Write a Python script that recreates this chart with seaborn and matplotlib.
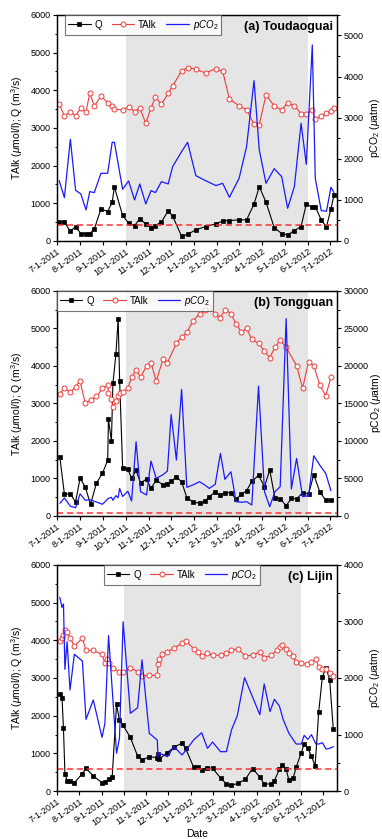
import matplotlib
matplotlib.use("Agg")
import matplotlib.pyplot as plt
import matplotlib.dates as mdates
from matplotlib.ticker import MultipleLocator, FuncFormatter
import pandas as pd
import seaborn as sns

sns.set_theme(style="ticks")
plt.rcParams["font.family"] = ["Liberation Sans", "DejaVu Sans"]
plt.rcParams["mathtext.fontset"] = "custom"
plt.rcParams["mathtext.rm"] = "Liberation Sans"
plt.rcParams["mathtext.it"] = "Liberation Sans:italic"
plt.rcParams["mathtext.bf"] = "Liberation Sans:bold"
for k in ["text.color", "axes.labelcolor", "xtick.color", "ytick.color", "axes.edgecolor"]:
    plt.rcParams[k] = "black"

# ---------------- data ----------------
atm_pco2 = 390
wet_start, wet_end = "2011-10-01", "2012-06-01"

# (a) Toudaoguai
a_dates = ["2011-07-04","2011-07-11","2011-07-19","2011-07-26","2011-08-02","2011-08-09","2011-08-14",
           "2011-08-20","2011-08-29","2011-09-07","2011-09-13","2011-09-16","2011-09-27","2011-10-05",
           "2011-10-13","2011-10-20","2011-10-28","2011-11-04","2011-11-10","2011-11-18","2011-11-27",
           "2011-12-03","2011-12-15","2011-12-23","2012-01-03","2012-01-16","2012-01-30","2012-02-08",
           "2012-02-17","2012-03-01","2012-03-11","2012-03-21","2012-03-28","2012-04-06","2012-04-17",
           "2012-04-27","2012-05-05","2012-05-14","2012-05-23","2012-05-30","2012-06-07","2012-06-11",
           "2012-06-19","2012-06-26","2012-07-02","2012-07-06"]
a_Q = [498,498,258,382,196,196,196,311,853,782,1031,1431,676,471,409,587,453,356,409,507,800,658,
       124,178,293,382,453,533,542,560,560,978,1440,1031,356,196,160,276,382,987,889,907,560,373,853,1209]
a_TAlk = [3628,3327,3425,3327,3522,3425,3929,3584,3841,3673,3575,3513,3469,3566,3434,3531,3124,3531,
          3814,3628,3920,4115,4513,4602,4558,4460,4575,4504,3770,3584,3487,3097,3088,3876,3584,3478,
          3673,3584,3381,3363,3487,3239,3327,3389,3460,3531]
a_pCO2 = [1468,1055,2474,1233,1144,754,1201,1177,1647,1647,2401,2401,1258,1460,998,1387,900,1225,
          1177,1444,1387,1809,2174,2401,1590,1468,1347,1403,1063,1525,2296,3902,2215,1403,1760,1566,
          795,1322,2864,1866,4770,1525,738,722,1306,1177]

# (b) Tongguan
b_dates = ["2011-07-05","2011-07-11","2011-07-19","2011-07-26","2011-08-01","2011-08-08","2011-08-15",
           "2011-08-23","2011-08-31","2011-09-07","2011-09-08","2011-09-12","2011-09-14","2011-09-18",
           "2011-09-21","2011-09-23","2011-09-27","2011-10-04","2011-10-09","2011-10-15","2011-10-21",
           "2011-10-29","2011-11-04","2011-11-11","2011-11-20","2011-11-26","2011-12-01","2011-12-08",
           "2011-12-15","2011-12-22","2011-12-30","2012-01-08","2012-01-15","2012-01-21","2012-01-29",
           "2012-02-05","2012-02-11","2012-02-19","2012-02-26","2012-03-04","2012-03-11","2012-03-18",
           "2012-03-27","2012-04-04","2012-04-11","2012-04-18","2012-04-25","2012-05-03","2012-05-10",
           "2012-05-17","2012-05-25","2012-06-02","2012-06-09","2012-06-17","2012-06-25","2012-07-02"]
b_Q = [1563,586,586,373,1004,772,311,879,1137,1491,2575,2005,3534,4314,5254,3604,1287,1243,1004,1217,
       879,985,737,959,826,844,932,1039,914,488,378,337,390,515,639,550,621,621,444,577,675,923,1083,
       781,1225,479,462,275,470,453,621,586,1100,648,417,417]
b_pCO2 = [1690,2400,1300,1100,2950,2100,2150,1860,1560,2260,2350,2490,2090,2710,2440,3680,2600,3300,
          2000,9900,3240,2800,7320,5020,5500,5990,13540,7460,16870,3820,4130,4570,4130,3680,4220,8340,
          4880,5900,1910,1820,1910,1460,17310,3240,1240,3240,3900,26320,3600,7680,2570,2710,8030,6790,
          5680,3370]
b_talk_dates = ["2011-07-05","2011-07-11","2011-07-19","2011-07-26","2011-08-01","2011-08-08","2011-08-15",
                "2011-08-23","2011-08-31","2011-09-07","2011-09-08","2011-09-12","2011-09-14","2011-09-18",
                "2011-09-21","2011-09-23","2011-09-27","2011-10-04","2011-10-09","2011-10-15","2011-10-21",
                "2011-10-29","2011-11-04","2011-11-11","2011-11-20","2011-11-26","2011-12-08","2011-12-15",
                "2011-12-22","2011-12-30","2012-01-08","2012-01-15","2012-01-21","2012-01-29","2012-02-05",
                "2012-02-11","2012-02-19","2012-02-26","2012-03-04","2012-03-11","2012-03-18","2012-03-27",
                "2012-04-04","2012-04-11","2012-04-18","2012-04-25","2012-05-03","2012-05-17","2012-05-25",
                "2012-06-02","2012-06-09","2012-06-17","2012-06-25","2012-07-02"]
b_TAlk = [3265,3407,3301,3451,3602,3000,3097,3186,3407,3496,3292,3115,2903,3053,3186,3292,3301,3407,
          3699,3894,3699,4000,4088,3593,4177,4088,4602,4779,4894,5195,5398,5487,5575,5389,5292,5504,
          5398,5115,4903,5000,4708,4602,4398,4221,4496,4690,4496,4009,3407,4115,4009,3496,3204,3699]

# (c) Lijin
c_q_dates = ["2011-07-05","2011-07-08","2011-07-10","2011-07-12","2011-07-15","2011-07-19","2011-07-25",
             "2011-08-05","2011-08-10","2011-08-20","2011-09-01","2011-09-05","2011-09-10","2011-09-15",
             "2011-09-21","2011-09-25","2011-09-30","2011-10-10","2011-10-20","2011-10-26","2011-11-05",
             "2011-11-16","2011-11-17","2011-11-19","2011-11-30","2011-12-09","2011-12-20","2011-12-25",
             "2012-01-05","2012-01-11","2012-01-16","2012-01-24","2012-01-31","2012-02-11","2012-02-19",
             "2012-02-26","2012-03-06","2012-03-16","2012-03-26","2012-04-05","2012-04-11","2012-04-21",
             "2012-04-25","2012-05-02","2012-05-06","2012-05-11","2012-05-15","2012-05-21","2012-05-25",
             "2012-06-01","2012-06-05","2012-06-10","2012-06-15","2012-06-20","2012-06-25","2012-06-30",
             "2012-07-05","2012-07-10","2012-07-15"]
c_Q = [2569,2471,1671,462,276,267,222,462,604,400,222,249,311,373,2302,1876,1742,1422,924,827,907,889,
       978,853,1022,1164,1271,1129,631,631,560,613,604,347,187,151,204,311,596,373,187,187,276,578,684,
       578,293,356,631,1022,1244,1129,924,667,2107,3031,3271,2960,1644]
c_talk_dates = ["2011-07-05","2011-07-08","2011-07-10","2011-07-12","2011-07-15","2011-07-19","2011-07-25",
                "2011-08-05","2011-08-10","2011-08-20","2011-09-01","2011-09-05","2011-09-08","2011-09-10",
                "2011-09-16","2011-09-25","2011-09-30","2011-10-10","2011-10-20","2011-10-26","2011-11-05",
                "2011-11-16","2011-11-17","2011-11-19","2011-11-23","2011-11-30","2011-12-09","2011-12-20",
                "2011-12-25","2012-01-05","2012-01-11","2012-01-16","2012-01-24","2012-01-31","2012-02-11",
                "2012-02-19","2012-02-26","2012-03-06","2012-03-16","2012-03-26","2012-04-05","2012-04-11",
                "2012-04-21","2012-04-28","2012-05-03","2012-05-06","2012-05-11","2012-05-15","2012-05-20",
                "2012-05-25","2012-06-01","2012-06-09","2012-06-15","2012-06-21","2012-06-25","2012-06-30",
                "2012-07-05","2012-07-11","2012-07-15"]
c_TAlk = [3995,4074,4153,4285,4215,4074,3845,4056,3731,3731,3625,3388,3493,3388,3274,3159,3159,3274,
          3168,3045,3071,3071,3379,3511,3625,3696,3801,3916,3995,3775,3696,3581,3652,3599,3608,3652,
          3740,3775,3581,3610,3690,3540,3599,3748,3828,3880,3757,3669,3581,3423,3388,3361,3423,3493,
          3282,3247,3247,3141,3054]
c_pco2_dates = ["2011-07-05","2011-07-08","2011-07-10","2011-07-12","2011-07-15","2011-07-19","2011-07-25",
                "2011-08-05","2011-08-10","2011-08-20","2011-09-01","2011-09-05","2011-09-10","2011-09-21",
                "2011-09-25","2011-09-30","2011-10-10","2011-10-20","2011-10-26","2011-11-05","2011-11-16",
                "2011-11-17","2011-11-19","2011-11-30","2011-12-09","2011-12-20","2011-12-25","2012-01-05",
                "2012-01-16","2012-01-24","2012-01-31","2012-02-11","2012-02-19","2012-02-26","2012-03-05",
                "2012-03-15","2012-04-05","2012-04-11","2012-04-19","2012-04-25","2012-05-02","2012-05-07",
                "2012-05-15","2012-05-25","2012-06-01","2012-06-05","2012-06-10","2012-06-15","2012-06-21",
                "2012-06-25","2012-06-30","2012-07-05","2012-07-10","2012-07-15"]
c_pCO2 = [3428,3250,3310,2153,2643,1788,2420,2300,1268,1611,950,1198,2749,667,932,2996,1375,1475,2319,
          1020,903,608,667,608,785,638,714,903,1032,755,867,696,696,1080,1333,2006,1350,1894,1404,1623,
          1500,1269,1020,832,832,985,914,997,832,832,855,743,755,785]

panels = [
    dict(title="(a) Toudaoguai", qd=a_dates, q=a_Q, td=a_dates, t=a_TAlk, pd_=a_dates, p=a_pCO2,
         rmax=5500, rmaj=1000, rmin=500, xend="2012-07-10", legx=0.03, rpad=3,
         pos=[0.149, 0.7128, 0.733, 0.2694], xlabel=False),
    dict(title="(b) Tongguan", qd=b_dates, q=b_Q, td=b_talk_dates, t=b_TAlk, pd_=b_dates, p=b_pCO2,
         rmax=30000, rmaj=5000, rmin=2500, xend="2012-07-10", legx=0.0, rpad=0.5,
         pos=[0.149, 0.3850, 0.733, 0.2682], xlabel=False),
    dict(title="(c) Lijin", qd=c_q_dates, q=c_Q, td=c_talk_dates, t=c_TAlk, pd_=c_pco2_dates, p=c_pCO2,
         rmax=4000, rmaj=1000, rmin=500, xend="2012-07-20", legx=0.168, rpad=3,
         pos=[0.149, 0.0572, 0.733, 0.2694], xlabel=True),
]

def fmt_date(x, pos=None):
    d = mdates.num2date(x)
    return f"{d.month}-{d.day}-{d.year}"

fig = plt.figure(figsize=(3.82, 8.39), dpi=100)
red = "#f03c3c"
blue = "#1a1aff"

for P in panels:
    ax = fig.add_axes(P["pos"])
    ax2 = ax.twinx()
    sns.lineplot(x=pd.to_datetime(P["qd"]), y=P["q"], ax=ax, color="black", linewidth=0.8,
                 marker="s", markersize=3.3, markeredgecolor="black", markerfacecolor="black",
                 markeredgewidth=0.5, estimator=None, sort=False, legend=False)
    sns.lineplot(x=pd.to_datetime(P["td"]), y=P["t"], ax=ax, color=red, linewidth=0.8,
                 marker="o", markersize=3.6, markeredgecolor=red, markerfacecolor="white",
                 markeredgewidth=0.7, estimator=None, sort=False, legend=False)
    sns.lineplot(x=pd.to_datetime(P["pd_"]), y=P["p"], ax=ax2, color=blue, linewidth=0.9,
                 estimator=None, sort=False, legend=False)
    ax.axvspan(pd.Timestamp(wet_start), pd.Timestamp(wet_end), color="#e5e5e5", lw=0, zorder=0)
    ax2.axhline(atm_pco2, color="#ff3030", ls=(0, (4, 2.5)), lw=1.1)

    ax.set_xlim(pd.Timestamp("2011-07-01"), pd.Timestamp(P["xend"]))
    ax.set_ylim(0, 6000)
    ax2.set_ylim(0, P["rmax"])
    ax.yaxis.set_major_locator(MultipleLocator(1000))
    ax.yaxis.set_minor_locator(MultipleLocator(500))
    ax2.yaxis.set_major_locator(MultipleLocator(P["rmaj"]))
    ax2.yaxis.set_minor_locator(MultipleLocator(P["rmin"]))
    ax.xaxis.set_major_locator(mdates.MonthLocator())
    ax.xaxis.set_major_formatter(FuncFormatter(fmt_date))

    for a in (ax, ax2):
        a.tick_params(axis="both", which="major", direction="out", length=3.2, width=0.8,
                      labelsize=6.5, pad=1.5)
        a.tick_params(axis="both", which="minor", direction="out", length=1.8, width=0.7)
        for s in a.spines.values():
            s.set_linewidth(0.9)
            s.set_color("black")
    ax.tick_params(axis="x", labelrotation=35, pad=1)
    for lab in ax.get_xticklabels():
        lab.set_horizontalalignment("right")
        lab.set_rotation_mode("anchor")

    ax.set_xlabel("Date" if P["xlabel"] else "", fontsize=7.5, labelpad=1)
    ax.set_ylabel(r"TAlk ($\mu$mol/l); Q (m$^3$/s)", fontsize=7.5, labelpad=4)
    ax2.set_ylabel(r"pCO$_2$ ($\mu$atm)", fontsize=7.5, labelpad=P["rpad"])

    ax2.text(0.986, 0.975, P["title"], transform=ax2.transAxes, ha="right", va="top",
             fontsize=9, fontweight="bold")

    handles = [ax.get_lines()[0], ax.get_lines()[1], ax2.get_lines()[0]]
    leg = ax2.legend(handles, ["Q", "TAlk", r"$pCO_2$"], ncol=3, loc="upper left",
                     bbox_to_anchor=(P["legx"], 1.0), borderaxespad=0, frameon=True,
                     fancybox=False, edgecolor="#555555", fontsize=7, handlelength=2.3,
                     columnspacing=1.0, handletextpad=0.4, borderpad=0.3)
    leg.get_frame().set_linewidth(0.8)

fig.savefig("out.png", dpi=100)
